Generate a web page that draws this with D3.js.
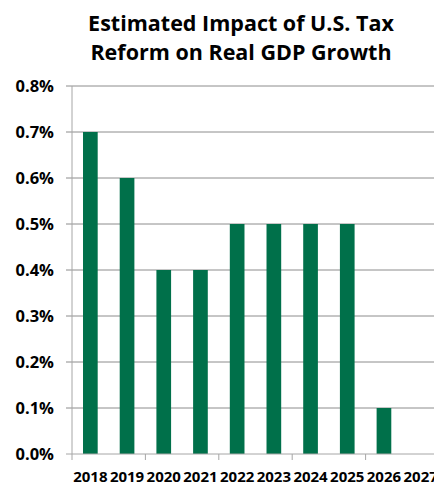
<!DOCTYPE html>
<html>
<head>
<meta charset="utf-8">
<script src="https://cdn.jsdelivr.net/npm/d3@7"></script>
<style>
  body { margin: 0; background: #fff; }
  text { font-family: 'Open Sans', sans-serif; font-weight: bold; fill: #000; }
</style>
</head>
<body>
<script>
const years = ['2018', '2019', '2020', '2021', '2022', '2023', '2024', '2025', '2026', '2027'];
const impact = [0.007, 0.006, 0.004, 0.004, 0.005, 0.005, 0.005, 0.005, 0.001, null];
const yTicks = [0, 0.001, 0.002, 0.003, 0.004, 0.005, 0.006, 0.007, 0.008];
const titleLines = ['Estimated Impact of U.S. Tax', 'Reform on Real GDP Growth'];

const width = 434;
const height = 492;
const plotLeft = 72;
const plotBottom = 454;
const plotTop = 86;
const step = 36.7;

const svg = d3.select('body').append('svg')
  .attr('width', width)
  .attr('height', height);

const x = d3.scaleBand()
  .domain(years)
  .range([plotLeft, plotLeft + step * years.length])
  .paddingInner(0.6)
  .paddingOuter(0.3);

const y = d3.scaleLinear()
  .domain([0, 0.008])
  .range([plotBottom, plotTop]);

// title
svg.append('g')
  .selectAll('text')
  .data(titleLines)
  .join('text')
  .attr('x', 241)
  .attr('y', (d, i) => 31 + i * 29)
  .attr('text-anchor', 'middle')
  .style('font-size', '21.5px')
  .text(d => d);

// gridlines
svg.append('g')
  .selectAll('line')
  .data(yTicks.filter(d => d > 0))
  .join('line')
  .attr('x1', plotLeft - 6)
  .attr('x2', width)
  .attr('y1', d => y(d))
  .attr('y2', d => y(d))
  .attr('stroke', '#8c8c8c')
  .attr('stroke-width', 1);

svg.append('g')
  .selectAll('text')
  .data(yTicks)
  .join('text')
  .attr('x', 54)
  .attr('y', d => y(d))
  .attr('dy', '0.36em')
  .attr('text-anchor', 'end')
  .style('font-size', '16.5px')
  .text(d => d3.format('.1%')(d));

// bars
svg.append('g')
  .selectAll('rect')
  .data(years.map((yr, i) => ({ yr, v: impact[i] })).filter(d => d.v != null))
  .join('rect')
  .attr('x', d => x(d.yr))
  .attr('width', x.bandwidth())
  .attr('y', d => y(d.v))
  .attr('height', d => y(0) - y(d.v))
  .attr('fill', '#00704a');

// axes
const axisColor = '#a6a6a6';
svg.append('line')
  .attr('x1', plotLeft).attr('x2', plotLeft)
  .attr('y1', plotTop).attr('y2', plotBottom + 6)
  .attr('stroke', axisColor);
svg.append('line')
  .attr('x1', plotLeft - 6).attr('x2', width)
  .attr('y1', plotBottom).attr('y2', plotBottom)
  .attr('stroke', axisColor);

// x tick marks every second category boundary
svg.append('g')
  .selectAll('line')
  .data(years.filter((d, i) => i % 2 === 0 && i > 0))
  .join('line')
  .attr('x1', d => x(d) - x.step() * x.paddingInner() / 2)
  .attr('x2', d => x(d) - x.step() * x.paddingInner() / 2)
  .attr('y1', plotBottom)
  .attr('y2', plotBottom + 6)
  .attr('stroke', axisColor);

svg.append('g')
  .selectAll('text')
  .data(years)
  .join('text')
  .attr('x', d => x(d) + x.bandwidth() / 2)
  .attr('y', 482)
  .attr('text-anchor', 'middle')
  .style('font-size', '15px')
  .text(d => d);
</script>
</body>
</html>
